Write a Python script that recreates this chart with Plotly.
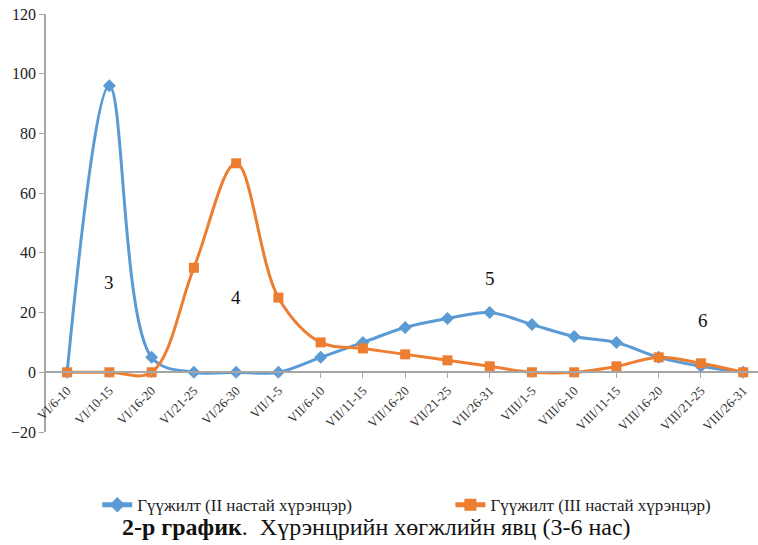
import plotly.graph_objects as go

# Ten-day periods (June–August)
periods = ["VI/6-10", "VI/10-15", "VI/16-20", "VI/21-25", "VI/26-30",
           "VII/1-5", "VII/6-10", "VII/11-15", "VII/16-20", "VII/21-25", "VII/26-31",
           "VIII/1-5", "VIII/6-10", "VIII/11-15", "VIII/16-20", "VIII/21-25", "VIII/26-31"]

# Share of animals in trotting, %
age2_values = [0, 96, 5, 0, 0, 0, 5, 10, 15, 18, 20, 16, 12, 10, 5, 2, 0]
age3_values = [0, 0, 0, 35, 70, 25, 10, 8, 6, 4, 2, 0, 0, 2, 5, 3, 0]

series_names = ["Гүүжилт (II настай хүрэнцэр)", "Гүүжилт (III настай хүрэнцэр)"]

# Age-stage markers placed over the curves
stage_labels = ["3", "4", "5", "6"]
stage_x = [1, 4, 10, 15.05]
stage_y = [30, 25, 31.5, 17.5]

BLUE = "#5B9BD5"
ORANGE = "#ED7D31"
SERIF = "Liberation Serif, Times New Roman, serif"

y_min, y_max = -20, 120
x_idx = list(range(len(periods)))

fig = go.Figure()
fig.add_trace(go.Scatter(
    x=x_idx, y=age2_values, name=series_names[0], mode="lines+markers",
    line=dict(color=BLUE, width=3, shape="spline", smoothing=1),
    marker=dict(symbol="diamond", size=10, color=BLUE),
    legend="legend",
))
fig.add_trace(go.Scatter(
    x=x_idx, y=age3_values, name=series_names[1], mode="lines+markers",
    line=dict(color=ORANGE, width=3, shape="spline", smoothing=1),
    marker=dict(symbol="square", size=10, color=ORANGE),
    legend="legend2",
))

for lab, sx, sy in zip(stage_labels, stage_x, stage_y):
    fig.add_annotation(x=sx, y=sy, text=lab, showarrow=False,
                       font=dict(family=SERIF, size=19, color="#111111"))

# Caption under the legend
fig.add_annotation(
    xref="paper", yref="paper", x=0.4635, y=-0.227, xanchor="center", yanchor="middle",
    text="<b>2-р график</b>.  Хүрэнцрийн хөгжлийн явц (3-6 нас)",
    showarrow=False, font=dict(family=SERIF, size=24, color="#111111"),
)

legend_style = dict(
    orientation="h", xanchor="left", y=-0.175, yanchor="middle",
    font=dict(family=SERIF, size=17, color="#222222"),
    bgcolor="rgba(0,0,0,0)", itemsizing="constant",
)

fig.update_layout(
    width=758, height=545,
    margin=dict(l=46, r=0, t=14, b=113),
    paper_bgcolor="white", plot_bgcolor="white",
    font=dict(family=SERIF, color="#222222"),
    showlegend=True,
    legend=dict(x=0.072, **legend_style),
    legend2=dict(x=0.568, **legend_style),
    xaxis=dict(
        range=[-0.5, 16.35],
        tickmode="array", tickvals=x_idx, ticktext=periods,
        tickangle=-45, tickfont=dict(family=SERIF, size=13, color="#333333"),
        showgrid=False, zeroline=False,
        showline=True, linecolor="#A6A6A6", linewidth=1.5,
        ticks="outside", ticklen=5, tickcolor="#A6A6A6",
        anchor="free", position=(0 - y_min) / (y_max - y_min),
    ),
    yaxis=dict(
        range=[y_min, y_max], dtick=20, tick0=0,
        showgrid=False, zeroline=False,
        showline=True, linecolor="#A6A6A6", linewidth=1.5,
        ticks="outside", ticklen=5, tickcolor="#A6A6A6",
        tickfont=dict(family=SERIF, size=16, color="#222222"),
    ),
)

fig.write_html("out.html")
